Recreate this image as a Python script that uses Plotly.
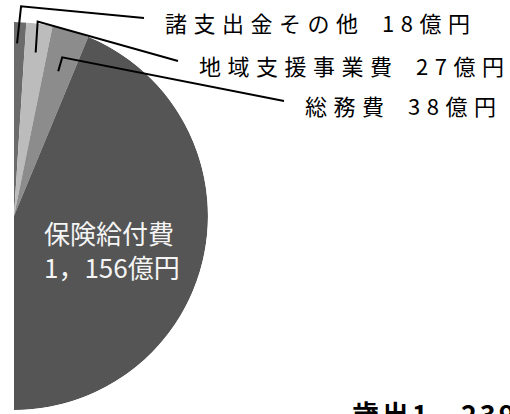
import numpy as np
import plotly.graph_objects as go

# ---- data ----
categories = ["諸支出金その他", "地域支援事業費", "総務費", "保険給付費"]
values = [18, 27, 38, 1156]
unit = "億円"
total_label = "歳出"

# ---- style / layout constants ----
colors = ["#6b6b6b", "#bcbcbc", "#8c8c8c", "#555555"]
W, H = 510, 414
CX, CY, R = 14, 216, 194          # pie centre & radius (px)
START = -1.6                       # angle where the first slice starts (deg, clockwise from top)
FONT = "Noto Sans CJK JP"

label_x_px = [163, 197, 303]       # left edge of outside labels
label_y_px = [22, 65, 105]         # vertical centre of outside labels
tip_r = [0.89, 0.85, 0.78]         # leader tip radius (fraction of R)
elbow_off_px = [(4, -37), (2, -31), (4, -14)]
end_off_px = (-19, -4)


def ux(px):
    return (px - CX) / R


def uy(py):
    return (CY - py) / R


def jp_num(n):
    return f"{n:,}".replace(",", "，")


total = sum(values)
widths = [v / total * 360 for v in values]
cum = np.concatenate([[0], np.cumsum(widths)])
mids = [START + (cum[i] + cum[i + 1]) / 2 for i in range(len(values))]

fig = go.Figure()
fig.add_trace(go.Barpolar(
    r=[1] * len(values), theta=mids, width=widths,
    marker=dict(color=colors, line=dict(width=0)),
    showlegend=False, hoverinfo="skip",
))

shapes = []
annotations = []
for i in range(3):
    th = np.deg2rad(mids[i])
    tx, ty = tip_r[i] * np.sin(th), tip_r[i] * np.cos(th)
    ex, ey = tx + elbow_off_px[i][0] / R, ty - elbow_off_px[i][1] / R
    lx, ly = ux(label_x_px[i] + end_off_px[0]), uy(label_y_px[i] + end_off_px[1])
    shapes.append(dict(
        type="path", xref="x", yref="y", layer="above",
        path=f"M {tx},{ty} L {ex},{ey} L {lx},{ly}",
        line=dict(color="black", width=2),
    ))
    annotations.append(dict(
        xref="x", yref="y", x=ux(label_x_px[i]), y=uy(label_y_px[i]),
        xanchor="left", yanchor="middle", showarrow=False,
        text=f'<span style="letter-spacing:6.5px">{categories[i]}\u2002{values[i]}{unit}</span>',
        font=dict(family=FONT, size=22, color="black"),
    ))

# big slice label inside
annotations.append(dict(
    xref="x", yref="y", x=ux(42), y=uy(249),
    xanchor="left", yanchor="middle", showarrow=False, align="left",
    text=f"{categories[3]}<br>{jp_num(values[3])}{unit}",
    font=dict(family=FONT, size=26, color="#f4f4f4"),
))

# total (cut off at bottom right, as in the reference)
annotations.append(dict(
    xref="x", yref="y", x=ux(350), y=uy(392),
    xanchor="left", yanchor="top", showarrow=False,
    text=f'<span style="letter-spacing:3px"><b>{total_label}{jp_num(total)}{unit}</b></span>',
    font=dict(family=FONT, size=27, color="black"),
))

fig.update_layout(
    width=W, height=H, margin=dict(l=0, r=0, t=0, b=0),
    paper_bgcolor="white", plot_bgcolor="white",
    polar=dict(
        domain=dict(x=[CX / W, (CX + R) / W], y=[(H - CY - R) / H, (H - CY + R) / H]),
        sector=[-90, 90], bgcolor="rgba(0,0,0,0)", hole=0,
        radialaxis=dict(visible=False, range=[0, 1]),
        angularaxis=dict(visible=False, rotation=90, direction="clockwise"),
    ),
    xaxis=dict(range=[-CX / R, (W - CX) / R], visible=False, fixedrange=True),
    yaxis=dict(range=[(CY - H) / R, CY / R], visible=False, fixedrange=True),
    shapes=shapes, annotations=annotations,
)

fig.write_html("out.html", config={"displayModeBar": False},
               post_script="document.body.style.margin='0px';")
